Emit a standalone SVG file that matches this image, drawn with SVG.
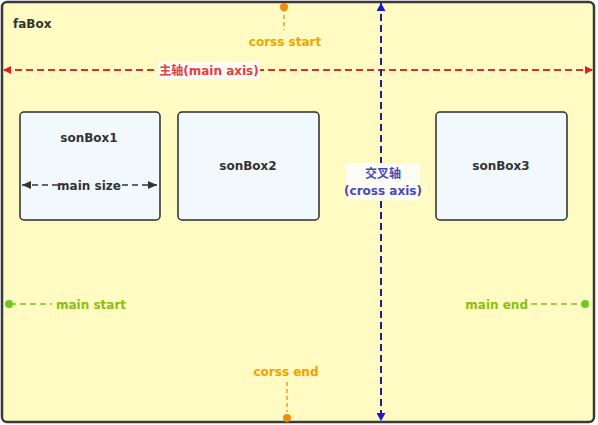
<svg xmlns="http://www.w3.org/2000/svg" width="598" height="425" viewBox="0 0 598 425">
<style>
text{font-family:"DejaVu Sans","Noto Sans CJK SC",sans-serif;font-weight:bold;font-size:12px}
.son rect{fill:#f2f9fc;stroke:#2b2b2b;stroke-width:1.5}
.son text{fill:#333;text-anchor:middle}
</style>
<defs>
<marker id="ar" markerWidth="8" markerHeight="8" refX="7" refY="4" orient="auto-start-reverse" markerUnits="userSpaceOnUse"><path d="M0,0 L8,4 L0,8 Z" fill="#e02020"/></marker>
<marker id="ab" markerWidth="8" markerHeight="9" refX="8" refY="4.5" orient="auto-start-reverse" markerUnits="userSpaceOnUse"><path d="M0,0 L8,4.5 L0,9 Z" fill="#1a1ad0"/></marker>
<marker id="ak" markerWidth="9" markerHeight="8" refX="9" refY="4" orient="auto-start-reverse" markerUnits="userSpaceOnUse"><path d="M0,0 L9,4 L0,8 Z" fill="#333"/></marker>
</defs>
<g id="faBox">
<rect x="2" y="2" width="592" height="420" rx="5" fill="#fffbc2" stroke="#3a3a3a" stroke-width="2.5"/>
<text x="13" y="28" fill="#333">faBox</text>
</g>
<g id="sonBox1" class="son">
<rect x="20" y="112" width="140" height="108" rx="4"/>
<text x="89" y="142">sonBox1</text>
</g>
<g id="sonBox2" class="son">
<rect x="178" y="112" width="141" height="108" rx="4"/>
<text x="248" y="170">sonBox2</text>
</g>
<g id="sonBox3" class="son">
<rect x="436" y="112" width="131" height="108" rx="4"/>
<text x="501" y="170">sonBox3</text>
</g>
<g id="connectors">
<line x1="4" y1="70" x2="592" y2="70" stroke="#d83030" stroke-width="2" stroke-dasharray="7,4" marker-start="url(#ar)" marker-end="url(#ar)"/>
<line x1="381" y1="3" x2="381" y2="421" stroke="#20208a" stroke-width="2" stroke-dasharray="7,4" marker-start="url(#ab)" marker-end="url(#ab)"/>
<line x1="22" y1="185" x2="157" y2="185" stroke="#333" stroke-width="1.5" stroke-dasharray="6,4" marker-start="url(#ak)" marker-end="url(#ak)"/>
<line x1="284" y1="8" x2="284" y2="30" stroke="#d89000" stroke-width="1.2" stroke-dasharray="4,3"/>
<circle cx="284" cy="7" r="4" fill="#f08c10"/>
<line x1="287" y1="382" x2="287" y2="412" stroke="#d89000" stroke-width="1.2" stroke-dasharray="4,3"/>
<circle cx="287" cy="418" r="4" fill="#f08c10"/>
<line x1="10" y1="304" x2="52" y2="304" stroke="#80c020" stroke-width="1.5" stroke-dasharray="6,4"/>
<circle cx="9" cy="304" r="4" fill="#66cc22"/>
<line x1="531" y1="304" x2="583" y2="304" stroke="#80c020" stroke-width="1.5" stroke-dasharray="6,4"/>
<circle cx="585" cy="304" r="4" fill="#66cc22"/>
</g>
<g id="labels">
<rect x="158" y="62" width="102" height="17" fill="#fdfdf5"/>
<text x="209" y="75" fill="#e04040" text-anchor="middle">主轴(main axis)</text>
<rect x="346" y="163" width="74" height="37" fill="#fdfdf5"/>
<text x="383" y="178" fill="#4848b8" text-anchor="middle">交叉轴</text>
<text x="383" y="195" fill="#4848b8" text-anchor="middle">(cross axis)</text>
<rect x="60" y="177" width="60" height="16" fill="#f2f9fc"/>
<text x="89" y="190" fill="#333" text-anchor="middle">main size</text>
<text x="285" y="46" fill="#f0a500" text-anchor="middle">corss start</text>
<text x="286" y="376" fill="#f0a000" text-anchor="middle">corss end</text>
<text x="56" y="309" fill="#88c010">main start</text>
<text x="528" y="309" fill="#88c010" text-anchor="end">main end</text>
</g>
</svg>
